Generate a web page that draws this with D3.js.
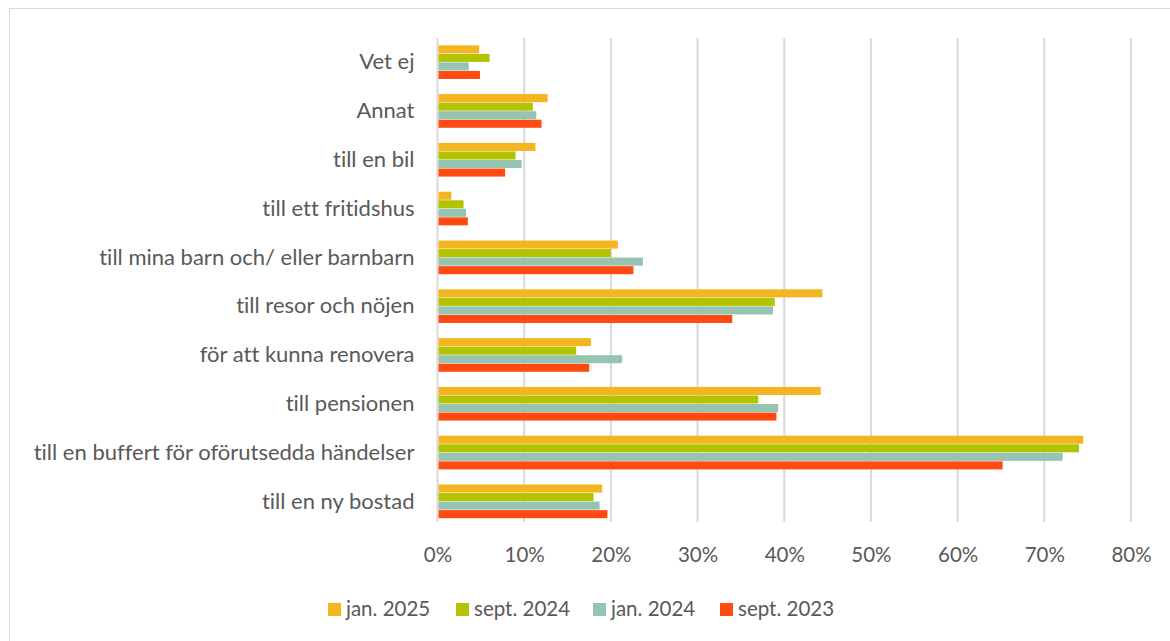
<!DOCTYPE html>
<html>
<head>
<meta charset="utf-8">
<script src="https://cdn.jsdelivr.net/npm/d3@7"></script>
<style>
  body { margin: 0; background: #fff; }
  svg { display: block; }
  text { font-variant-ligatures: none; font-feature-settings: "liga" 0; }
</style>
</head>
<body>
<svg id="chart"></svg>
<script>
// categories, top to bottom
const categories = ['Vet ej', 'Annat', 'till en bil', 'till ett fritidshus',
  'till mina barn och/ eller barnbarn', 'till resor och nöjen', 'för att kunna renovera',
  'till pensionen', 'till en buffert för oförutsedda händelser', 'till en ny bostad'];
const seriesNames = ['jan. 2025', 'sept. 2024', 'jan. 2024', 'sept. 2023'];
const jan2025 = [4.8, 12.7, 11.3, 1.6, 20.8, 44.4, 17.7, 44.2, 74.5, 19.0];
const sept2024 = [6.0, 11.0, 9.0, 3.0, 20.0, 38.9, 16.0, 37.0, 74.0, 18.0];
const jan2024 = [3.6, 11.4, 9.7, 3.3, 23.7, 38.7, 21.3, 39.3, 72.1, 18.7];
const sept2023 = [4.9, 12.0, 7.8, 3.5, 22.6, 34.0, 17.5, 39.1, 65.2, 19.6];
const xTicks = [0, 10, 20, 30, 40, 50, 60, 70, 80];

const width = 1170, height = 641;
const colors = ['#F4B620', '#B3C300', '#95C4B0', '#FF4B11'];
const seriesValues = [jan2025, sept2024, jan2024, sept2023];
const font = 'Lato, sans-serif';

const svg = d3.select('#chart')
  .attr('width', width)
  .attr('height', height);

// chart frame
svg.append('rect')
  .attr('x', 9.5).attr('y', 8.5)
  .attr('width', width - 9).attr('height', height - 8)
  .attr('fill', '#fff')
  .attr('stroke', '#d9d9d9');

const marginLeft = 437.5, marginRight = 1131, plotTop = 38, plotBottom = 526;

const x = d3.scaleLinear().domain([0, 80]).range([marginLeft, marginRight]);
const y = d3.scaleBand().domain(categories).range([plotTop, plotBottom]).paddingInner(0.3).paddingOuter(0.15);
const ySub = d3.scaleBand().domain(seriesNames).range([0, y.bandwidth()]);

// grid
svg.append('g')
  .selectAll('line')
  .data(xTicks)
  .join('line')
  .attr('x1', d => x(d)).attr('x2', d => x(d))
  .attr('y1', plotTop).attr('y2', plotBottom - 4)
  .attr('stroke', '#d9d9d9')
  .attr('stroke-width', 2);

// bars
seriesNames.forEach((s, si) => {
  svg.append('g')
    .selectAll('rect')
    .data(categories)
    .join('rect')
    .attr('x', x(0) + 1)
    .attr('y', d => y(d) + ySub(s))
    .attr('width', (d, i) => x(seriesValues[si][i]) - x(0) - 1)
    .attr('height', ySub.bandwidth() - 0.5)
    .attr('fill', colors[si]);
});

// category labels
const yAxis = svg.append('g')
  .attr('transform', `translate(${marginLeft},0)`)
  .call(d3.axisLeft(y).tickSize(0).tickPadding(23));
yAxis.select('.domain').remove();
yAxis.selectAll('text')
  .attr('font-family', font)
  .attr('font-size', 22)
  .attr('fill', '#595959');

// x tick labels
const xAxis = svg.append('g')
  .attr('transform', `translate(0,${plotBottom})`)
  .call(d3.axisBottom(x).tickValues(xTicks).tickSize(0).tickPadding(21).tickFormat(d => d + '%'));
xAxis.select('.domain').remove();
xAxis.selectAll('text')
  .attr('font-family', font)
  .attr('font-size', 20.5)
  .attr('fill', '#595959');

// legend
const legendX = [328, 456, 593, 720];
const legend = svg.append('g');
seriesNames.forEach((s, i) => {
  legend.append('rect')
    .attr('x', legendX[i]).attr('y', 603)
    .attr('width', 13).attr('height', 13)
    .attr('fill', colors[i]);
  legend.append('text')
    .attr('x', legendX[i] + 18).attr('y', 616)
    .attr('font-family', font)
    .attr('font-size', 20.5)
    .attr('fill', '#595959')
    .text(s);
});
</script>
</body>
</html>
